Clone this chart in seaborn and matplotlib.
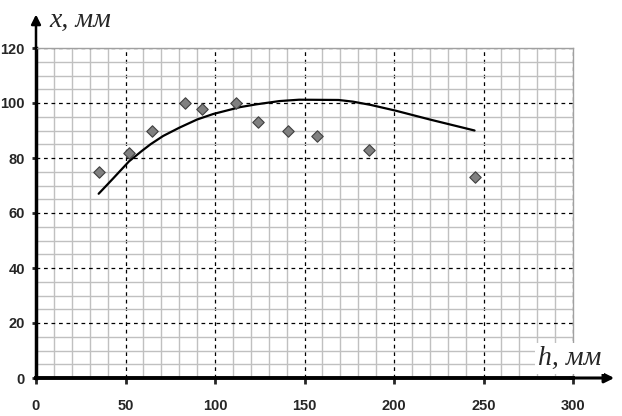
import matplotlib
matplotlib.use('Agg')
import matplotlib.pyplot as plt
import seaborn as sns
import pandas as pd
from matplotlib.ticker import MultipleLocator

# measured points
h_points = [35, 52, 65, 83, 93, 112, 124, 141, 157, 186, 245]
x_points = [75, 82, 90, 100, 98, 100, 93, 90, 88, 83, 73]

# fitted curve
h_curve = [35, 43, 52, 59, 64, 71, 80, 90, 99, 108, 114, 123, 136, 147, 169, 177, 187, 201, 220, 245]
x_curve = [67, 72.5, 78.8, 82.5, 85, 88, 91, 94, 96, 97.5, 98.5, 99.5, 100.7, 101.2, 101.1, 100.5, 99.3, 97.2, 94, 90]

x_ticks = [0, 50, 100, 150, 200, 250, 300]
y_ticks = [0, 20, 40, 60, 80, 100, 120]

pts = pd.DataFrame({'h': h_points, 'x': x_points})
curve = pd.DataFrame({'h': h_curve, 'x': x_curve})

sns.set_style('white')
plt.rcParams['font.family'] = ['Liberation Sans', 'DejaVu Sans']

fig = plt.figure(figsize=(6.22, 4.16), dpi=100)
ax = fig.add_axes([36 / 622, 38 / 416, 537 / 622, 330 / 416])

ax.set_xlim(0, 300)
ax.set_ylim(0, 120)
ax.xaxis.set_major_locator(MultipleLocator(50))
ax.xaxis.set_minor_locator(MultipleLocator(10))
ax.yaxis.set_major_locator(MultipleLocator(20))
ax.yaxis.set_minor_locator(MultipleLocator(5))
ax.grid(which='minor', color='#c0c0c0', linewidth=1.0, linestyle='-')
ax.grid(which='major', color='black', linewidth=0.9, linestyle=(0, (3, 3)))
ax.set_axisbelow(True)

sns.lineplot(data=curve, x='h', y='x', color='black', linewidth=1.6, ax=ax, zorder=3)
sns.scatterplot(data=pts, x='h', y='x', marker='D', s=34, color='#808080',
                edgecolor='#404040', linewidth=0.8, ax=ax, zorder=4)

ax.set_xticks(x_ticks)
ax.set_yticks(y_ticks)
ax.set_xticklabels([str(t) for t in x_ticks], fontweight='bold', fontsize=10.5,
                   family='Liberation Sans')
ax.set_yticklabels([str(t) for t in y_ticks], fontweight='bold', fontsize=10.5,
                   family='Liberation Sans')
ax.tick_params(axis='x', which='major', direction='out', length=4, width=2, pad=11, bottom=True)
ax.tick_params(axis='y', which='major', direction='out', length=3, width=2, pad=5, left=True)
ax.tick_params(which='minor', length=0)
ax.set_xlabel('')
ax.set_ylabel('')

for side in ['top', 'right']:
    ax.spines[side].set_color('#a0a0a0')
    ax.spines[side].set_linewidth(1.0)
ax.spines['left'].set_linewidth(2.5)
ax.spines['bottom'].set_linewidth(2.8)
ax.spines['left'].set_color('black')
ax.spines['bottom'].set_color('black')

# axis arrows
ax.annotate('', xy=(1.082, 0), xytext=(0.99, 0), xycoords='axes fraction',
            arrowprops=dict(arrowstyle='-|>', color='black', lw=2.2, mutation_scale=14),
            annotation_clip=False)
ax.annotate('', xy=(0, 1.11), xytext=(0, 0.99), xycoords='axes fraction',
            arrowprops=dict(arrowstyle='-|>', color='black', lw=1.8, mutation_scale=14),
            annotation_clip=False)

ax.text(0.025, 1.064, 'x, мм', transform=ax.transAxes, fontsize=20,
        family='Liberation Serif', style='italic', va='baseline', ha='left')
ax.text(0.935, 0.039, 'h, мм', transform=ax.transAxes, fontsize=20,
        family='Liberation Serif', style='italic', va='baseline', ha='left',
        bbox=dict(facecolor='white', edgecolor='none', pad=2), zorder=5)

fig.savefig('out.png', dpi=100)
